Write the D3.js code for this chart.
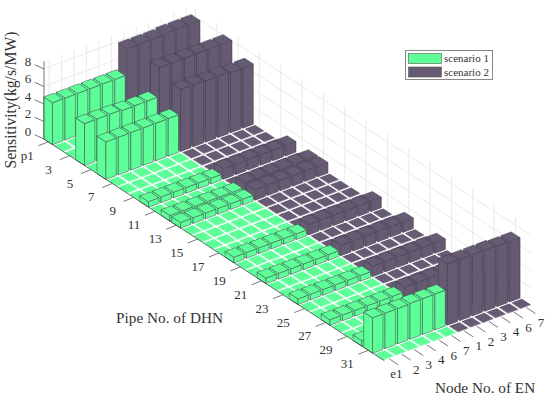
<!DOCTYPE html>
<html>
<head>
<meta charset="utf-8">
<script src="https://cdn.jsdelivr.net/npm/d3@7"></script>
<style>
  html, body { margin: 0; padding: 0; background: #fff; }
  text { font-family: "Liberation Serif", serif; fill: #333; }
</style>
</head>
<body>
<script>
var width = 550, height = 399;

var nodeLabels = ["e1", "2", "3", "4", "6", "7", "1", "2", "3", "4", "6", "7"];
var pipeLabels = ["p1", "3", "5", "7", "9", "11", "13", "15", "17", "19", "21", "23", "25", "27", "29", "31"];
var zTicks = [0, 2, 4, 6, 8];
var legendNames = ["scenario 1", "scenario 2"];

// one line per pipe row (32 rows), six nodes each
var scenario1 = [
  [4.8, 4.8, 4.8, 4.8, 4.8, 4.8],
  [.05, .05, .05, .05, .05, .05],
  [.05, .05, .05, .05, .05, .05],
  [4.8, 4.8, 4.8, 4.7, 4.7, 4.7],
  [.05, .05, .05, .05, .05, .05],
  [4.3, 4.3, 4.3, 4.3, 4.3, 4.3],
  [.05, .05, .05, .05, .05, .05],
  [.05, .05, .05, .05, .05, .05],
  [.05, .05, .05, .05, .05, .05],
  [.65, .65, .65, .65, .65, .65],
  [.05, .05, .05, .05, .05, .05],
  [.65, .65, .65, .65, .65, .65],
  [.65, .65, .65, .65, .65, .65],
  [.05, .05, .05, .05, .05, .05],
  [.05, .05, .05, .05, .05, .05],
  [.05, .05, .05, .05, .05, .05],
  [.05, .05, .05, .05, .05, .05],
  [.65, .65, .65, .65, .65, .65],
  [.05, .05, .05, .05, .05, .05],
  [.05, .05, .05, .05, .05, .05],
  [.65, .65, .65, .65, .65, .65],
  [.05, .05, .05, .05, .05, .05],
  [.05, .05, .05, .05, .05, .05],
  [.65, .65, .65, .65, .65, .65],
  [.05, .05, .05, .05, .05, .05],
  [.05, .05, .05, .05, .05, .05],
  [.65, .65, .65, .65, .65, .65],
  [.05, .05, .05, .05, .05, .05],
  [.05, .05, .05, .05, .05, .05],
  [.65, .65, .65, .65, .65, .65],
  [4.05, 4.05, 4.05, 4.1, 4.1, 4.1],
  [.05, .05, .05, .05, .05, .05]
];
var scenario2 = [
  [7.8, 7.8, 7.8, 7.9, 7.9, 7.9],
  [.05, .05, .05, .05, .05, .05],
  [.05, .05, .05, .05, .05, .05],
  [8, 8, 8, 8, 8, 8],
  [.05, .05, .05, .05, .05, .05],
  [7.1, 7.1, 7, 7, 6.9, 6.9],
  [.05, .05, .05, .05, .05, .05],
  [.05, .05, .05, .05, .05, .05],
  [.05, .05, .05, .05, .05, .05],
  [1.2, 1.2, 1.2, 1.2, 1.2, 1.2],
  [.05, .05, .05, .05, .05, .05],
  [1.2, 1.2, 1.2, 1.2, 1.2, 1.2],
  [1.2, 1.2, 1.2, 1.2, 1.2, 1.2],
  [.05, .05, .05, .05, .05, .05],
  [.05, .05, .05, .05, .05, .05],
  [.05, .05, .05, .05, .05, .05],
  [.05, .05, .05, .05, .05, .05],
  [1.2, 1.2, 1.2, 1.2, 1.2, 1.2],
  [.05, .05, .05, .05, .05, .05],
  [.05, .05, .05, .05, .05, .05],
  [1.2, 1.2, 1.2, 1.2, 1.2, 1.2],
  [.05, .05, .05, .05, .05, .05],
  [.05, .05, .05, .05, .05, .05],
  [1.2, 1.2, 1.2, 1.2, 1.2, 1.2],
  [.05, .05, .05, .05, .05, .05],
  [.05, .05, .05, .05, .05, .05],
  [1.2, 1.2, 1.2, 1.2, 1.2, 1.2],
  [.05, .05, .05, .05, .05, .05],
  [.05, .05, .05, .05, .05, .05],
  [1.2, 1.2, 1.2, 1.2, 1.2, 1.2],
  [7, 7, 7, 7, 6.9, 6.9],
  [.05, .05, .05, .05, .05, .05]
];

var green = "#5eff98", purple = "#675b74";

// screen offsets along each of the three chart axes
var nodeX = d3.scaleLinear().domain([0, 12]).range([0, 149.6]);
var nodeY = d3.scaleLinear().domain([0, 12]).range([0, -56]);
var pipeX = d3.scaleLinear().domain([0, 32]).range([0, 341.4]);
var pipeY = d3.scaleLinear().domain([0, 32]).range([0, 222.4]);
var zY = d3.scaleLinear().domain([0, 8]).range([0, -70]);
var originX = 41.7, originY = 138.8;

function project(c, r, z) {
  return [originX + nodeX(c) + pipeX(r), originY + nodeY(c) + pipeY(r) + zY(z || 0)];
}

var svg = d3.select("body").append("svg")
  .attr("width", width)
  .attr("height", height)
  .style("display", "block");

function segment(parent, a, b, color, w) {
  parent.append("line")
    .attr("x1", a[0]).attr("y1", a[1])
    .attr("x2", b[0]).attr("y2", b[1])
    .attr("stroke", color).attr("stroke-width", w);
}

// walls
var grid = svg.append("g");
var gridColor = "#e8e8e8";
var cFar = 11.9, rNear = 0.1, rEnd = 32, zTop = 8.9;
zTicks.forEach(function(z) {
  if (z === 0) return;
  segment(grid, project(0.1, rNear, z), project(cFar, rNear, z), gridColor, 0.9);
  segment(grid, project(cFar, rNear, z), project(cFar, rEnd, z), gridColor, 0.9);
});
nodeLabels.forEach(function(d, i) {
  segment(grid, project(i + 0.5, rNear, 0), project(i + 0.5, rNear, zTop), gridColor, 0.9);
});
pipeLabels.forEach(function(d, i) {
  segment(grid, project(cFar, i * 2 + 0.5, 0), project(cFar, i * 2 + 0.5, zTop), gridColor, 0.9);
});

// bars, back to front
var bars = [];
d3.range(32).forEach(function(r) {
  d3.range(11, -1, -1).forEach(function(c) {
    var v = c < 6 ? scenario1[r][c] : scenario2[r][c - 6];
    bars.push({ r: r, c: c, v: v, fill: c < 6 ? green : purple });
  });
});

function poly(pts) { return pts.map(function(p) { return p.join(","); }).join(" "); }

var bar = svg.append("g").selectAll("g")
  .data(bars)
  .join("g")
  .attr("stroke", function(d) { return d.v > 0.2 ? "#3a4048" : d.fill; })
  .attr("stroke-width", function(d) { return d.v > 0.2 ? 0.5 : 0; })
  .attr("stroke-linejoin", "round")
  .attr("fill", function(d) { return d.fill; });

var lo = 0.085, hi = 0.915;
bar.append("polygon").attr("points", function(d) {
  return poly([project(d.c + lo, d.r + lo, 0), project(d.c + lo, d.r + hi, 0), project(d.c + lo, d.r + hi, d.v), project(d.c + lo, d.r + lo, d.v)]);
});
bar.append("polygon").attr("points", function(d) {
  return poly([project(d.c + lo, d.r + hi, 0), project(d.c + hi, d.r + hi, 0), project(d.c + hi, d.r + hi, d.v), project(d.c + lo, d.r + hi, d.v)]);
});
bar.append("polygon").attr("points", function(d) {
  return poly([project(d.c + lo, d.r + lo, d.v), project(d.c + lo, d.r + hi, d.v), project(d.c + hi, d.r + hi, d.v), project(d.c + hi, d.r + lo, d.v)]);
});

// axes
var axes = svg.append("g");
var axisColor = "#555";
segment(axes, project(0.1, 0.1, 0), project(0.1, 0.1, zTop), axisColor, 0.8);
segment(axes, project(0.1, 0.1, 0), project(0.1, 32, 0), "#333", 0.7);

zTicks.forEach(function(z) {
  var p = project(0.1, 0.1, z);
  segment(axes, p, [p[0] - 9.3, p[1] - 4.3], axisColor, 0.8);
  axes.append("text").attr("x", p[0] - 16).attr("y", p[1] - 6.5)
    .attr("text-anchor", "middle").attr("dominant-baseline", "middle")
    .attr("font-size", 13).text(z);
});

pipeLabels.forEach(function(d, i) {
  var p = project(0.1, i * 2 + 0.5, 0);
  var q = [p[0] - 10, p[1] + 4];
  segment(axes, p, q, axisColor, 0.8);
  axes.append("text").attr("x", q[0] - 11).attr("y", q[1] + 11)
    .attr("text-anchor", "middle").attr("dominant-baseline", "middle")
    .attr("font-size", 13).text(d);
});

nodeLabels.forEach(function(d, i) {
  var p = project(i + 0.5, 32, 0);
  var q = [p[0] + 9, p[1] + 6];
  segment(axes, p, q, axisColor, 0.8);
  axes.append("text").attr("x", q[0] + 5.5 - (d.length - 1) * 7.5).attr("y", q[1] + 10.5)
    .attr("text-anchor", "middle").attr("dominant-baseline", "middle")
    .attr("font-size", 13).text(d);
});

// axis titles
svg.append("text")
  .attr("transform", "translate(16,100) rotate(-90)")
  .attr("text-anchor", "middle")
  .attr("font-size", 15.7)
  .text("Sensitivity(kg/s/MW)");
svg.append("text").attr("x", 116).attr("y", 323).attr("font-size", 15.3).text("Pipe No. of DHN");
svg.append("text").attr("x", 435).attr("y", 393).attr("font-size", 15.3).text("Node No. of EN");

// legend
var legend = svg.append("g");
legend.append("rect")
  .attr("x", 405.5).attr("y", 50.5).attr("width", 87).attr("height", 29)
  .attr("fill", "#fff").attr("stroke", "#888").attr("stroke-width", 1);
legend.selectAll("rect.key")
  .data(legendNames)
  .join("rect")
  .attr("class", "key")
  .attr("x", 408.5)
  .attr("y", function(d, i) { return 53.5 + i * 13.5; })
  .attr("width", 33).attr("height", 10)
  .attr("fill", function(d, i) { return i ? purple : green; })
  .attr("stroke", "#555").attr("stroke-width", 0.6);
legend.selectAll("text")
  .data(legendNames)
  .join("text")
  .attr("x", 444)
  .attr("y", function(d, i) { return 62 + i * 13.5; })
  .attr("font-size", 11)
  .text(function(d) { return d; });
</script>
</body>
</html>
